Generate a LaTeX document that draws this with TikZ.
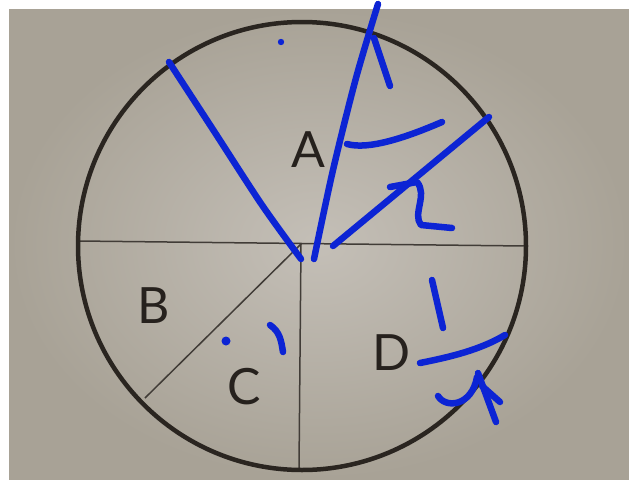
\documentclass[tikz,border=0pt]{standalone}
\usepackage{fontspec}
\setmainfont{Lato}
\definecolor{ink}{RGB}{12,36,212}
\definecolor{paperin}{RGB}{196,191,183}
\definecolor{paperout}{RGB}{168,162,150}
\definecolor{pencil}{RGB}{42,37,32}
\tikzset{
  rim/.style={draw=pencil, line width=4.5pt},
  divider/.style={draw=pencil!85!paperin, line width=1.5pt},
  lab/.style={text=pencil!90!black, font=\fontsize{50}{50}\selectfont, inner sep=0pt},
  pen/.style={draw=ink, line width=6.5pt, line cap=round, line join=round},
}
\begin{document}
\begin{tikzpicture}[x=1pt,y=-1pt]
\useasboundingbox (0,0) rectangle (629,482);
\fill[white] (0,0) rectangle (629,482);
\shade[inner color=paperin, outer color=paperout] (9,9) rectangle (629,479);

% circle and dividers
\coordinate (O) at (301,244);
\coordinate (L) at (78,241);
\coordinate (R) at (526,246);
\coordinate (Bt) at (299,469);
\coordinate (BC) at (145,398);
\draw[divider] (L) -- (R);
\draw[divider] (O) -- (Bt);
\draw[divider] (O) -- (BC);
\draw[rim] (302,246) circle [radius=224pt];

% labels
\node[lab] (A) at (308,150) {A};
\node[lab] (B) at (154,306) {B};
\node[lab] (C) at (244,387) {C};
\node[lab] (D) at (392,353) {D};

% blue marks
\draw[pen] plot[smooth] coordinates {(169,62) (212,128) (262,205) (301,259)};
\draw[pen] plot[smooth] coordinates {(378,4) (356,78) (333,170) (314,259)};
\draw[pen] (374,38) -- (390,86);
\draw[pen] (347,144) .. controls (368,150) and (405,138) .. (442,122);
\draw[pen] (333,246) -- (489,117);
\draw[pen] (390,187) -- (417,182) .. controls (428,195) and (412,214) .. (421,225) -- (452,228);
\draw[pen] (432,280) -- (443,328);
\draw[pen] (420,363) .. controls (450,357) and (480,350) .. (505,335);
\draw[pen] (438,396) .. controls (446,409) and (472,406) .. (477,377);
\draw[pen] (478,373) -- (496,422);
\draw[pen] (482,386) -- (500,402);
\draw[pen] (270,325) .. controls (280,332) and (281,340) .. (283,352);
\fill[ink] (281,42) circle [radius=3.2pt];
\fill[ink] (226,341) circle [radius=4.5pt];
\end{tikzpicture}
\end{document}
